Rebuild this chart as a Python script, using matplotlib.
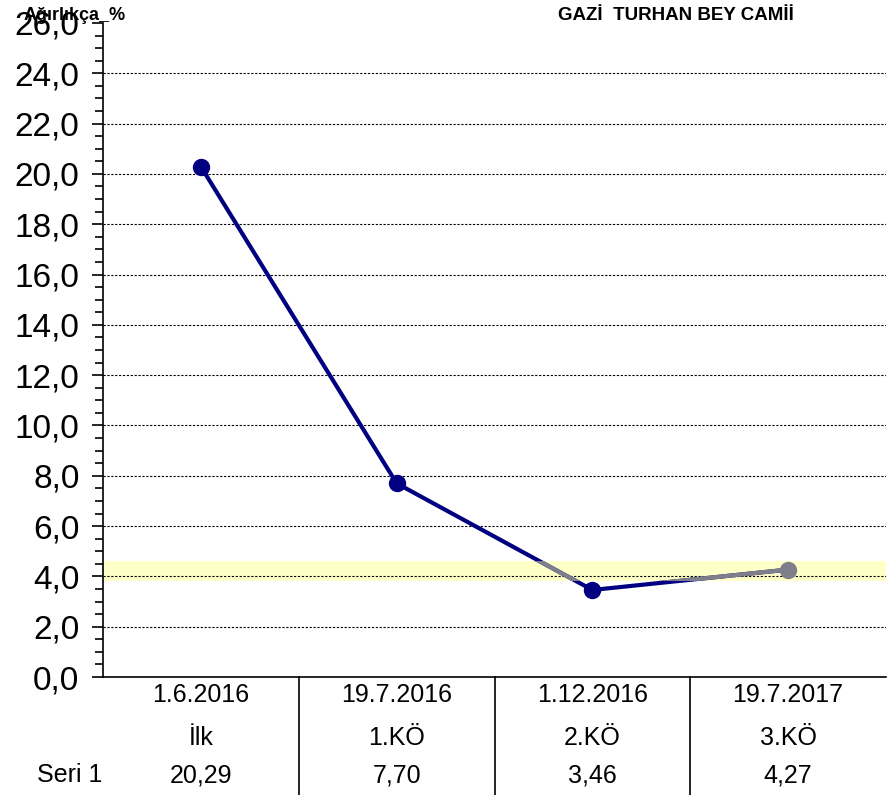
import matplotlib
matplotlib.use("Agg")
import matplotlib.pyplot as plt
from matplotlib.patches import Rectangle
from matplotlib.ticker import MultipleLocator, FuncFormatter
import matplotlib.transforms as mtransforms

dates = ["1.6.2016", "19.7.2016", "1.12.2016", "19.7.2017"]
stages = ["İlk", "1.KÖ", "2.KÖ", "3.KÖ"]
values = [20.29, 7.70, 3.46, 4.27]
value_labels = ["20,29", "7,70", "3,46", "4,27"]
series_name = "Seri 1"
band = (3.8, 4.6)

NAVY = "#000080"
GRAY = "#7f7f8c"
FONT = ["Liberation Sans Narrow", "Liberation Sans", "DejaVu Sans"]
plt.rcParams["font.family"] = FONT

fig = plt.figure(figsize=(8.89, 7.95), dpi=100)
W, H = 889, 795
ax = fig.add_axes([103 / W, (H - 677) / H, (886 - 103) / W, (677 - 23) / H])

x = list(range(len(values)))
ax.set_xlim(-0.5, len(values) - 0.5)
ax.set_ylim(0, 26)

ax.axhspan(band[0], band[1], color="#ffffc8", zorder=0, lw=0)
for g in range(2, 26, 2):
    ax.axhline(g, color="black", lw=0.8, ls=(0, (2, 1.5)), zorder=1)

ax.plot(x, values, color=NAVY, lw=3, zorder=3, solid_capstyle="butt")
gray_line, = ax.plot(x, values, color=GRAY, lw=3, zorder=4, solid_capstyle="butt")
clip = Rectangle((-0.5, band[0]), len(values), band[1] - band[0], transform=ax.transData)
gray_line.set_clip_path(clip)

for xi, v in zip(x, values):
    c = GRAY if band[0] <= v <= band[1] else NAVY
    ax.plot(xi, v, "o", ms=11.5, color=c, zorder=5)

for s in ["top", "right"]:
    ax.spines[s].set_visible(False)
ax.spines["left"].set_linewidth(1.2)
ax.spines["bottom"].set_linewidth(1.2)

ax.yaxis.set_major_locator(MultipleLocator(2))
ax.yaxis.set_minor_locator(MultipleLocator(0.5))
ax.yaxis.set_major_formatter(FuncFormatter(lambda v, p: f"{v:.1f}".replace(".", ",")))
ax.tick_params(axis="y", which="major", length=8, width=1.2, labelsize=24, pad=9)
ax.tick_params(axis="y", which="minor", length=6, width=1.2)
ax.set_xticks([])

# table under the chart
trans = mtransforms.blended_transform_factory(ax.transData, ax.transAxes)
bottom = -(H - 677) / (677 - 23)
for b in [0.5, 1.5, 2.5]:
    ax.plot([b, b], [0, bottom], color="black", lw=1.2, transform=trans, clip_on=False)

rows = [(dates, 695), (stages, 738), (value_labels, 775)]
for labels, ypix in rows:
    yy = (677 - ypix) / (677 - 23)
    for xi, lab in zip(x, labels):
        ax.text(xi, yy, lab, transform=trans, ha="center", va="center", fontsize=18, clip_on=False)
fig.text(70 / W, 1 - 775 / H, series_name, ha="center", va="center", fontsize=18)

fig.text(75 / W, 1 - 15 / H, "Ağırlıkça_%", ha="center", va="center", fontsize=13, fontweight="bold")
fig.text(676 / W, 1 - 15 / H, "GAZİ  TURHAN BEY CAMİİ", ha="center", va="center", fontsize=13.5, fontweight="bold")

fig.savefig("out.png", dpi=100)
